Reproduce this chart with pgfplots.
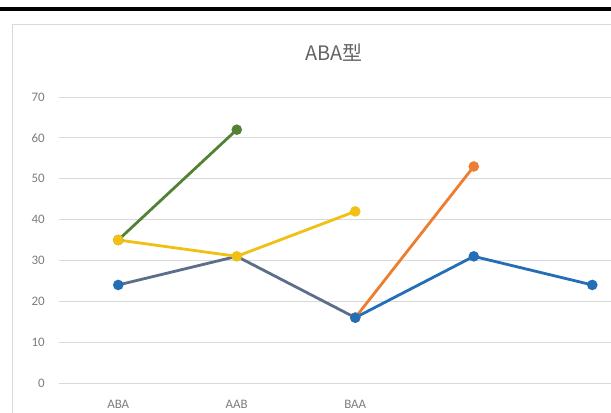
\documentclass[border=0pt]{standalone}
\usepackage{fontspec}
\setmainfont{Carlito}
\newfontfamily\cjk{Noto Sans CJK SC}
\usepackage{pgfplots}
\pgfplotsset{compat=1.18}
\definecolor{cblue}{RGB}{36,110,184}
\definecolor{cslate}{RGB}{92,110,138}
\definecolor{cgreen}{RGB}{84,130,53}
\definecolor{cyellow}{RGB}{240,192,20}
\definecolor{corange}{RGB}{237,125,49}
\definecolor{gridgrey}{RGB}{217,217,217}
\definecolor{ticktext}{RGB}{125,125,125}
\definecolor{titletext}{RGB}{100,100,100}
\begin{document}
\begin{tikzpicture}[x=1bp,y=1bp]
\useasboundingbox (0,0) rectangle (611,412);
\clip (0,0) rectangle (611,412);
\fill[white] (0,0) rectangle (611,412);
\fill[black] (0,401) rectangle (611,405);
\draw[gridgrey, line width=1bp] (12,-5) -- (12,387) -- (620,387);
\node[font=\cjk\fontsize{20}{22}\selectfont, text=titletext] at (334,359) {ABA型};
\begin{axis}[
  at={(59bp,29bp)}, anchor=south west,
  scale only axis, width=552bp, height=286bp,
  xmin=-0.5, xmax=4.158, ymin=0, ymax=70,
  ytick={0,10,...,70},
  xtick={0,1,2}, xticklabels={ABA,AAB,BAA},
  axis line style={draw=none}, tick style={draw=none},
  ymajorgrids, grid style={draw=gridgrey, line width=1bp},
  /pgf/number format/assume math mode=true,
  ticklabel style={font=\fontsize{13}{15}\selectfont, text=ticktext},
  yticklabel style={anchor=east, inner sep=0pt, xshift=-14bp},
  xticklabel style={anchor=center, inner sep=0pt, yshift=-21bp},
  every axis plot/.append style={line width=2.8bp, mark=*, mark size=3.8bp},
  clip=false,
]
\addplot[corange, mark options={fill=corange, draw=corange}] coordinates {(2,16) (3,53)};
\addplot[cslate, no marks] coordinates {(0,24) (1,31) (2,16)};
\addplot[cblue, mark options={fill=cblue, draw=cblue}] coordinates {(2,16) (3,31) (4,24)};
\addplot[cblue, only marks, mark options={fill=cblue, draw=cblue}] coordinates {(0,24)};
\addplot[cgreen, mark options={fill=cgreen, draw=cgreen}] coordinates {(0,35) (1,62)};
\addplot[cyellow, mark options={fill=cyellow, draw=cyellow}] coordinates {(0,35) (1,31) (2,42)};
\end{axis}
\end{tikzpicture}
\end{document}
